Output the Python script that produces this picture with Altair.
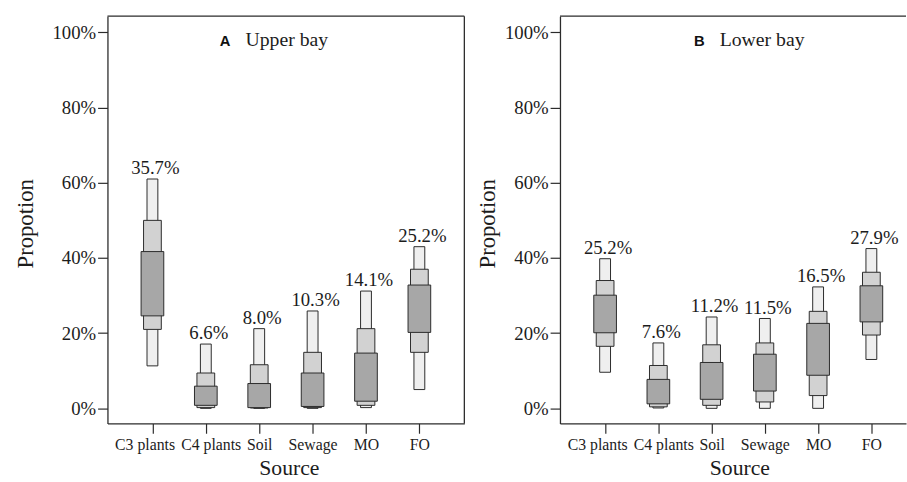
import json

import altair as alt
import pandas as pd

# Source categories on the x axis
sources = ["C3 plants", "C4 plants", "Soil", "Sewage", "MO", "FO"]
y_ticks = [0, 20, 40, 60, 80, 100]

# Upper bay: posterior medians and credible intervals (%)
upper_median = [35.7, 6.6, 8.0, 10.3, 14.1, 25.2]
upper_ci95_lo = [11.3, 0.0, 0.0, 0.0, 0.2, 5.0]
upper_ci95_hi = [61.0, 17.1, 21.2, 25.9, 31.2, 43.0]
upper_ci75_lo = [21.0, 0.2, 0.1, 0.2, 0.8, 14.9]
upper_ci75_hi = [50.0, 9.4, 11.6, 14.9, 21.2, 37.0]
upper_ci50_lo = [24.6, 0.8, 0.2, 0.5, 1.9, 20.2]
upper_ci50_hi = [41.7, 5.9, 6.6, 9.4, 14.7, 32.8]

# Lower bay: posterior medians and credible intervals (%)
lower_median = [25.2, 7.6, 11.2, 11.5, 16.5, 27.9]
lower_ci95_lo = [9.6, 0.1, 0.0, 0.0, 0.0, 13.0]
lower_ci95_hi = [39.8, 17.4, 24.3, 23.9, 32.3, 42.5]
lower_ci75_lo = [16.5, 0.4, 0.8, 1.7, 3.4, 19.5]
lower_ci75_hi = [34.0, 11.4, 16.9, 17.4, 25.8, 36.2]
lower_ci50_lo = [20.1, 1.2, 2.4, 4.6, 8.8, 23.0]
lower_ci50_hi = [30.1, 7.7, 12.2, 14.4, 22.6, 32.6]

FONT = "Liberation Serif"
INK = "#2b2b2b"
TEXT = "#1c1c1c"
PLOT_H = 413
Y_DOMAIN = [-4, 104.3]

# interval level -> (box width px, fill)
BOX_STYLE = [(11, "#efefef"), (18, "#d2d2d2"), (23, "#a7a7a7")]

label_expr = json.dumps(sources) + "[datum.value]"

# nudge the two long neighbouring labels apart so they do not collide
label_nudge = {
    "condition": [
        {"test": "datum.value == 0", "value": -8},
        {"test": "datum.value == 1", "value": 5},
    ],
    "value": 0,
}


def panel(letter, name, median, intervals, width, x_domain,
          y_title_x, x_title_x, letter_x, name_x, title_y, right_border):
    idx = list(range(len(sources)))
    x_scale = alt.Scale(domain=x_domain, nice=False, zero=False)
    y_scale = alt.Scale(domain=Y_DOMAIN, nice=False, zero=False)
    x_axis = alt.Axis(
        values=idx, labelExpr=label_expr, labelOffset=label_nudge,
        title="Source", titleX=x_title_x, titleY=52,
        titleBaseline="alphabetic",
    )
    y_axis = alt.Axis(
        values=y_ticks, labelExpr="datum.value + '%'", title="Propotion",
        titleX=y_title_x, titleY=210, titleBaseline="alphabetic",
    )

    layers = []
    for (lo, hi), (w, fill) in zip(intervals, BOX_STYLE):
        df = pd.DataFrame({"idx": idx, "lo": lo, "hi": hi})
        layers.append(
            alt.Chart(df)
            .mark_bar(width=w, fill=fill, stroke=INK, strokeWidth=1)
            .encode(
                x=alt.X("idx:Q", scale=x_scale, axis=x_axis),
                y=alt.Y("lo:Q", scale=y_scale, axis=y_axis),
                y2="hi:Q",
            )
        )

    # median labels above the 95% interval
    top = intervals[0][1]
    lab = pd.DataFrame({
        "idx": idx,
        "hi": top,
        "label": [f"{m:.1f}%" for m in median],
    })
    layers.append(
        alt.Chart(lab)
        .mark_text(dx=3, dy=-5, baseline="alphabetic", font=FONT,
                   fontSize=19, color=TEXT)
        .encode(
            x=alt.X("idx:Q", scale=x_scale, axis=x_axis),
            y=alt.Y("hi:Q", scale=y_scale, axis=y_axis),
            text="label:N",
        )
    )

    one = pd.DataFrame({"k": [0]})
    # frame: top edge (and right edge where the panel is not cut off)
    layers.append(
        alt.Chart(one).mark_rule(color=INK, strokeWidth=1.3)
        .encode(x=alt.value(0), x2=alt.value(width), y=alt.value(0))
    )
    if right_border:
        layers.append(
            alt.Chart(one).mark_rule(color=INK, strokeWidth=1.3)
            .encode(x=alt.value(width), y=alt.value(0), y2=alt.value(PLOT_H))
        )

    # panel heading: bold letter + serif name
    layers.append(
        alt.Chart(one)
        .mark_text(text=letter, align="left", baseline="alphabetic",
                   font="Liberation Sans", fontWeight="bold", fontSize=15,
                   color="#111111")
        .encode(x=alt.value(letter_x), y=alt.value(title_y))
    )
    layers.append(
        alt.Chart(one)
        .mark_text(text=name, align="left", baseline="alphabetic",
                   font=FONT, fontSize=20, color=TEXT)
        .encode(x=alt.value(name_x), y=alt.value(title_y))
    )

    return alt.layer(*layers).properties(width=width, height=PLOT_H)


upper = panel(
    "A", "Upper bay", upper_median,
    [(upper_ci95_lo, upper_ci95_hi),
     (upper_ci75_lo, upper_ci75_hi),
     (upper_ci50_lo, upper_ci50_hi)],
    width=362, x_domain=[-0.75, 5.75],
    y_title_x=-76, x_title_x=184, letter_x=114, name_x=140, title_y=30,
    right_border=True,
)

lower = panel(
    "B", "Lower bay", lower_median,
    [(lower_ci95_lo, lower_ci95_hi),
     (lower_ci75_lo, lower_ci75_hi),
     (lower_ci50_lo, lower_ci50_hi)],
    width=351, x_domain=[-0.755, 5.558],
    y_title_x=-66.5, x_title_x=182, letter_x=136, name_x=162, title_y=30,
    right_border=False,
)

chart = (
    alt.hconcat(upper, lower, spacing=11)
    .properties(padding={"left": 15, "top": 12, "right": 0, "bottom": 0},
                background="white")
    .configure_view(stroke=None)
    .configure_axis(
        grid=False, domainColor=INK, domainWidth=1.3, tickColor=INK,
        tickWidth=1.2, tickSize=10, labelFont=FONT, titleFont=FONT,
        labelColor=TEXT, titleColor=TEXT, titleFontWeight="normal",
        labelOverlap=False, labelFlush=False, labelBound=False,
    )
    .configure_axisX(labelFontSize=16, labelPadding=4, labelAngle=0,
                     titleFontSize=22)
    .configure_axisY(labelFontSize=19, labelPadding=2, titleFontSize=23)
)

chart.save("out.html", embed_options={"renderer": "svg", "actions": False})
